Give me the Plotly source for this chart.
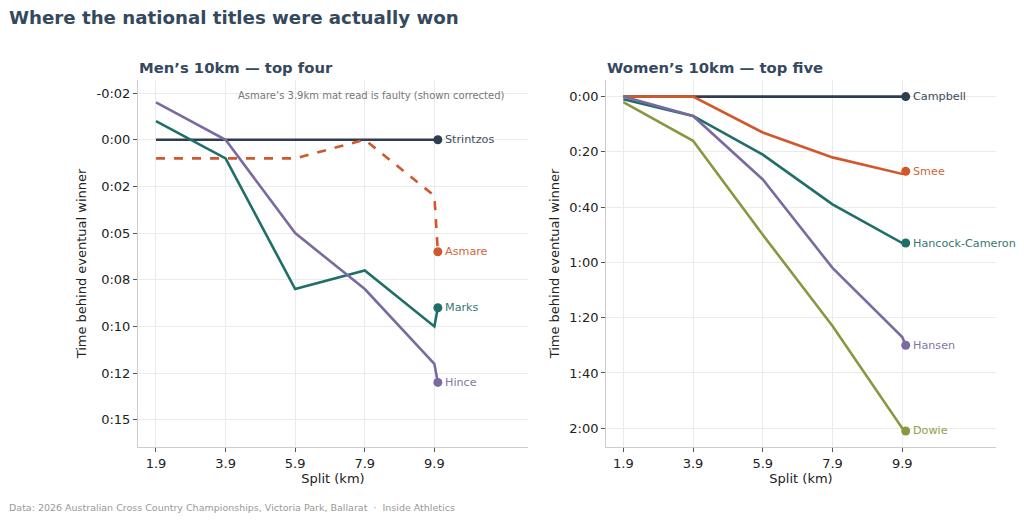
import plotly.graph_objects as go

# split points (km); 10.0 is the finish
splits = [1.9, 3.9, 5.9, 7.9, 9.9, 10.0]
split_ticks = [1.9, 3.9, 5.9, 7.9, 9.9]
split_labels = ["1.9", "3.9", "5.9", "7.9", "9.9"]

# seconds behind the eventual winner
men_strintzos = [0, 0, 0, 0, 0, 0]
men_asmare = [1, 1, 1, 0, 3, 6]
men_marks = [-1, 1, 8, 7, 10, 9]
men_hince = [-2, 0, 5, 8, 12, 13]

women_campbell = [0, 0, 0, 0, 0, 0]
women_smee = [0, 0, 13, 22, 28, 27]
women_hancock = [1, 7, 21, 39, 53, 53]
women_hansen = [0, 7, 30, 62, 87, 90]
women_dowie = [2, 16, 50, 83, 120, 121]

men_yticks = [-2.5, 0, 2.5, 5, 7.5, 10, 12.5, 15]
men_ylabels = ["-0:02", "0:00", "0:02", "0:05", "0:08", "0:10", "0:12", "0:15"]
women_yticks = [0, 20, 40, 60, 80, 100, 120]
women_ylabels = ["0:00", "0:20", "0:40", "1:00", "1:20", "1:40", "2:00"]

NAVY = "#2c3e50"
ORANGE = "#d1572d"
TEAL = "#1f6e68"
PURPLE = "#7a6aa0"
OLIVE = "#8b9641"
FONT = "DejaVu Sans"

men = [
    ("Strintzos", men_strintzos, NAVY, "solid"),
    ("Asmare", men_asmare, ORANGE, "dash"),
    ("Marks", men_marks, TEAL, "solid"),
    ("Hince", men_hince, PURPLE, "solid"),
]
women = [
    ("Campbell", women_campbell, NAVY, "solid"),
    ("Smee", women_smee, ORANGE, "solid"),
    ("Hancock-Cameron", women_hancock, TEAL, "solid"),
    ("Hansen", women_hansen, PURPLE, "solid"),
    ("Dowie", women_dowie, OLIVE, "solid"),
]

# figure is 1016x512 because the page adds an 8px body margin
W, H = 1016, 512
ML, MR, MT, MB = 130, 28, 72, 73
PW, PH = W - ML - MR, H - MT - MB

fig = go.Figure()
annotations = []


def add_panel(runners, xa, ya):
    for name, vals, color, dash in runners:
        fig.add_trace(go.Scatter(
            x=splits, y=vals, mode="lines", xaxis=xa, yaxis=ya,
            line=dict(color=color, width=2.6, dash=dash),
            showlegend=False, hoverinfo="skip",
        ))
        fig.add_trace(go.Scatter(
            x=[splits[-1]], y=[vals[-1]], mode="markers", xaxis=xa, yaxis=ya,
            marker=dict(color=color, size=9),
            showlegend=False, hoverinfo="skip",
        ))
        annotations.append(dict(
            x=splits[-1], y=vals[-1], xref=xa, yref=ya, text=name,
            showarrow=False, xanchor="left", yanchor="middle", xshift=5,
            font=dict(family=FONT, size=11.2, color=color), opacity=0.92,
        ))


add_panel(men, "x", "y")
add_panel(women, "x2", "y2")

axis_common = dict(
    showline=True, linecolor="#cccccc", linewidth=1,
    showgrid=True, gridcolor="#ebebeb", gridwidth=1,
    zeroline=False, ticks="outside", ticklen=4, tickcolor="#555555",
    tickfont=dict(family=FONT, size=13, color="#222222"),
    automargin=False,
)
title_font = dict(family=FONT, size=13, color="#222222")

fig.update_layout(
    width=W, height=H,
    paper_bgcolor="white", plot_bgcolor="white",
    margin=dict(l=ML, r=MR, t=MT, b=MB),
    font=dict(family=FONT, color="#222222"),
    xaxis=dict(domain=[0, 0.4545], range=[1.383, 12.59],
               tickvals=split_ticks, ticktext=split_labels,
               title=dict(text="Split (km)", standoff=2, font=title_font),
               **axis_common),
    yaxis=dict(domain=[0, 1], range=[16.46, -3.2],
               tickvals=men_yticks, ticktext=men_ylabels,
               title=dict(text="Time behind eventual winner", standoff=6,
                          font=title_font),
               **axis_common),
    xaxis2=dict(domain=[0.5455, 1], range=[1.404, 12.59], anchor="y2",
                tickvals=split_ticks, ticktext=split_labels,
                title=dict(text="Split (km)", standoff=2, font=title_font),
                **axis_common),
    yaxis2=dict(domain=[0, 1], range=[126.8, -6.0], anchor="x2",
                tickvals=women_yticks, ticktext=women_ylabels,
                title=dict(text="Time behind eventual winner", standoff=6,
                           font=title_font),
                **axis_common),
)

# titles, note and source line (positions in figure pixels -> paper coords)
def px_x(px):
    return (px - ML) / PW


def px_y(py):
    return (H - MB - py) / PH


annotations += [
    dict(x=px_x(-1), y=px_y(9), xref="paper", yref="paper",
         xanchor="left", yanchor="middle", showarrow=False,
         text="<b>Where the national titles were actually won</b>",
         font=dict(family=FONT, size=18.2, color="#34495e")),
    dict(x=-0.003, y=px_y(60), xref="x domain", yref="paper", yanchor="middle",
         xanchor="left", showarrow=False,
         text="<b>Men\u2019s 10km \u2014 top four</b>",
         font=dict(family=FONT, size=14.8, color="#34495e")),
    dict(x=-0.003, y=px_y(60), xref="x2 domain", yref="paper", yanchor="middle",
         xanchor="left", showarrow=False,
         text="<b>Women\u2019s 10km \u2014 top five</b>",
         font=dict(family=FONT, size=14.8, color="#34495e")),
    dict(x=0.946, y=px_y(87), xref="x domain", yref="paper",
         xanchor="right", yanchor="middle", showarrow=False,
         text="Asmare\u2019s 3.9km mat read is faulty (shown corrected)",
         font=dict(family=FONT, size=10, color="#777777")),
    dict(x=px_x(-1), y=px_y(499), xref="paper", yref="paper",
         xanchor="left", yanchor="middle", showarrow=False,
         text="Data: 2026 Australian Cross Country Championships, Victoria Park, Ballarat  \u00b7  Inside Athletics",
         font=dict(family=FONT, size=9.5, color="#999999")),
]

fig.update_layout(annotations=annotations)

fig.write_html("out.html")
